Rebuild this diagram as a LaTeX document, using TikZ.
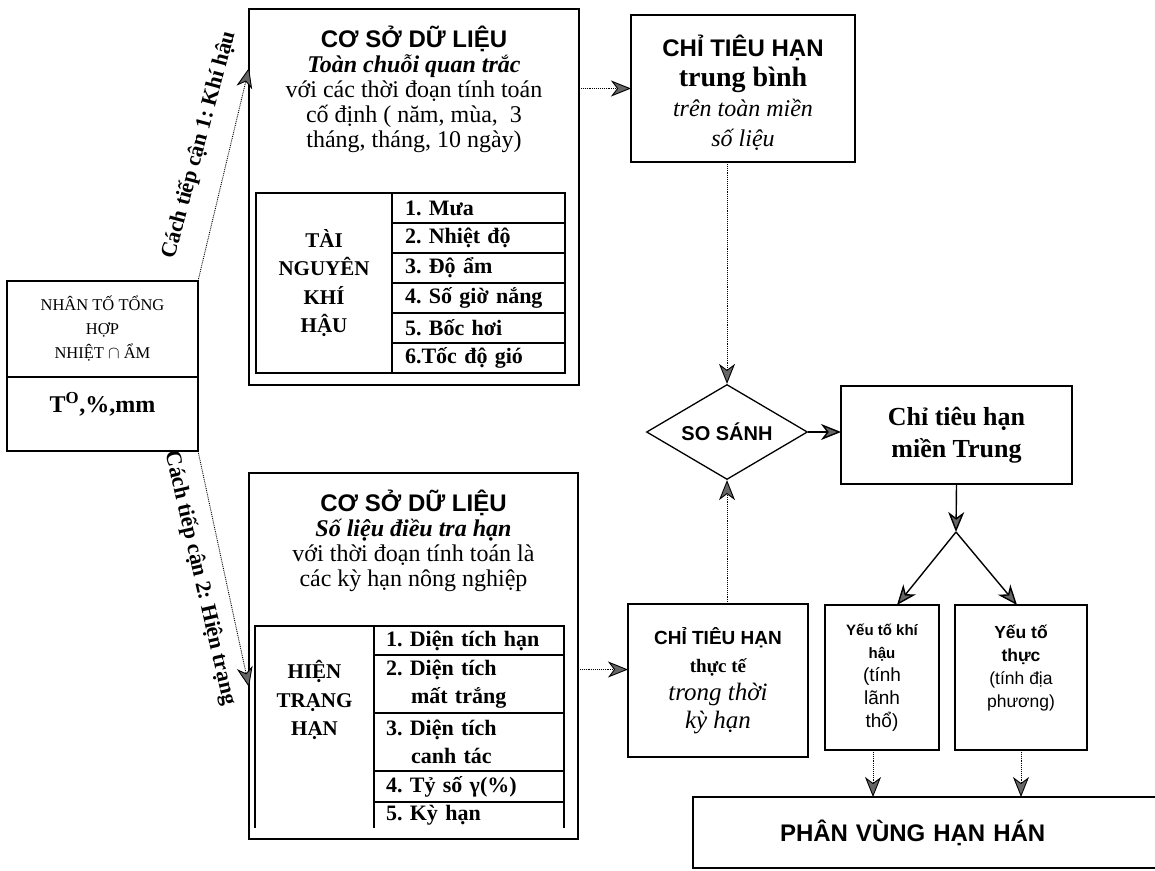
\documentclass[tikz,border=0pt]{standalone}
\usepackage{fontspec}
\setmainfont{Liberation Serif}
\setsansfont{Liberation Sans}
\frenchspacing
\usetikzlibrary{shapes.geometric, arrows.meta, positioning}
\tikzset{
    box/.style={rectangle, draw=black, line width=1.6pt, fill=white, inner sep=0pt, outer sep=0pt, align=center},
    cell/.style={rectangle, draw=black, line width=1.3pt, inner sep=0pt, outer sep=0pt, font=\bfseries\fontsize{21}{28.5}\selectfont},
    item/.style={cell, font=\bfseries\fontsize{22}{28}\selectfont, align=left, anchor=north west},
    decision/.style={diamond, draw=black, line width=1.3pt, fill=white, aspect=1.7, inner sep=0pt, minimum width=161pt, minimum height=95pt, font=\sffamily\bfseries\fontsize{20}{22}\selectfont},
    tag/.style={font=\upshape\bfseries\fontsize{22}{24}\selectfont, inner sep=0pt},
    arrow/.style={line width=1.4pt, -{Stealth[length=20pt, width=16pt, inset=6pt, fill=black!60]}},
    weak/.style={arrow, line width=0.9pt, densely dotted}
}

\begin{document}
\begin{tikzpicture}[x=1pt, y=-1pt]
    \useasboundingbox (0,0) rectangle (1155,870);

    \node (factor) [box, minimum width=191pt, minimum height=96pt, font=\fontsize{16.5}{24}\selectfont] at (102.5,329) {NHÂN TỐ TỔNG\\HỢP\\NHIỆT $\cap$ ẨM};
    \node (unit) [box, minimum width=191pt, minimum height=74pt, below=0pt of factor, text depth=23pt, font=\bfseries\fontsize{24}{28}\selectfont] {T\textsuperscript{O},\%,mm};

    \node (way1) [tag, rotate=75] at (199,145) {Cách tiếp cận 1: Khí hậu};
    \node (way2) [tag, rotate=-77] at (200,578) {Cách tiếp cận 2: Hiện trạng};

    \node (db1) [box, minimum width=330pt, minimum height=376pt] at (414,197) {};
    \node (db1text) [anchor=north, inner sep=0pt, align=center, font=\fontsize{24}{25}\selectfont] at ([yshift=-17pt]db1.north) {{\sffamily\bfseries CƠ SỞ DỮ LIỆU}\\{\bfseries\itshape Toàn chuỗi quan trắc}\\với các thời đoạn tính toán\\cố định ( năm, mùa,~ 3\\tháng, tháng, 10 ngày)};
    \node (res) [cell, minimum width=136pt, minimum height=180pt, anchor=north west, align=center] at (256,193) {TÀI\\NGUYÊN\\KHÍ\\HẬU};
    \foreach \txt [count=\i] in {1. Mưa, 2. Nhiệt độ, 3. Độ ẩm, 4. Số giờ nắng, 5. Bốc hơi, 6.Tốc độ gió}
        \node (r\i) [item, text width=147pt, inner xsep=13pt, minimum height=30pt] at (392,{163+30*\i}) {\txt};

    \node (db2) [box, minimum width=329pt, minimum height=366pt, anchor=north west] at (249,473) {};
    \node (db2text) [anchor=north, inner sep=0pt, align=center, font=\fontsize{24}{25}\selectfont] at ([yshift=-17pt]db2.north) {{\sffamily\bfseries CƠ SỞ DỮ LIỆU}\\{\bfseries\itshape Số liệu điều tra hạn}\\với thời đoạn tính toán là\\các kỳ hạn nông nghiệp};
    \node (stat) [minimum width=119pt, minimum height=202pt, anchor=north west, inner sep=0pt, outer sep=0pt] at (255,626) {};
    \draw [line width=1.3pt] (stat.south west) |- (stat.north east) -- (stat.south east);
    \node (stattext) [cell, draw=none, align=center] at ([yshift=27pt]stat.center) {HIỆN\\TRẠNG\\HẠN};
    \node (s1) [item, text width=166pt, inner xsep=12pt, minimum height=29pt] at (374,626) {1. Diện tích hạn};
    \node (s2) [item, text width=166pt, inner xsep=12pt, minimum height=58pt, below=0pt of s1] {2. Diện tích\\\hspace*{25pt}mất trắng};
    \node (s3) [item, text width=166pt, inner xsep=12pt, minimum height=58pt, below=0pt of s2] {3. Diện tích\\\hspace*{25pt}canh tác};
    \node (s4) [item, text width=166pt, inner xsep=12pt, minimum height=31pt, below=0pt of s3] {4. Tỷ số γ(\%)};
    \node (s5) [item, draw=none, text width=166pt, inner xsep=12pt, minimum height=26pt, below=0pt of s4] {5. Kỳ hạn};
    \draw [line width=1.3pt] (s5.north east) -- (s5.south east);

    \node (avg) [box, minimum width=224pt, minimum height=147pt, font=\fontsize{24}{30}\selectfont] at (743,88.5) {\rule{0pt}{30pt}{\sffamily\bfseries CHỈ TIÊU HẠN}\\{\bfseries\fontsize{28}{30}\selectfont trung bình}\\{\itshape trên toàn miền}\\{\itshape số liệu}};
    \node (cmp) [decision] at (727,432) {SO SÁNH};
    \node (central) [box, minimum width=231pt, minimum height=98pt, font=\bfseries\fontsize{26}{32}\selectfont] at (956.5,435) {Chỉ tiêu hạn\\miền Trung};
    \node (actual) [box, minimum width=180pt, minimum height=153pt, anchor=north west, font=\fontsize{24}{28}\selectfont] at (628,604) {{\sffamily\bfseries\fontsize{19}{28}\selectfont CHỈ TIÊU HẠN}\\{\bfseries\fontsize{19}{28}\selectfont thực tế}\\{\itshape\fontsize{25}{29}\selectfont trong thời}\\{\itshape\fontsize{25}{29}\selectfont kỳ hạn}};
    \node (climate) [box, line width=1.2pt, minimum width=114pt, minimum height=145pt, anchor=north west, font=\sffamily\fontsize{19}{23}\selectfont] at (825,605) {{\bfseries\fontsize{15}{18}\selectfont Yếu tố khí}\\{\bfseries\fontsize{15}{18}\selectfont hậu}\\(tính\\lãnh\\thổ)};
    \node (real) [box, line width=1.2pt, minimum width=132pt, minimum height=145pt, anchor=north west, font=\sffamily\fontsize{17.5}{23}\selectfont] at (955,605) {{\bfseries Yếu tố}\\{\bfseries thực}\\(tính địa\\phương)\\\mbox{}};
    \node (zone) [box, minimum width=522pt, minimum height=71pt, anchor=north west, text width=500pt, align=left, font=\sffamily\bfseries\fontsize{24}{28}\selectfont] at (693,797) {\hspace*{76pt}PHÂN VÙNG HẠN HÁN};

    \coordinate (actin) at ([yshift=11pt]actual.west);
    \coordinate (fork) at (956,532);

    \draw [weak] (factor.north east) -- ([yshift=-59pt]db1.north west);
    \draw [weak] (unit.south east) -- ([yshift=152pt]db2.south west);
    \draw [weak] (db1.east |- avg.west) -- (avg.west);
    \draw [weak] (cmp.north |- avg.south) -- (cmp.north);
    \draw [weak] (db2.east |- actin) -- (actin);
    \draw [weak] (cmp.south |- actual.north) -- (cmp.south);
    \draw [arrow] (cmp.east) -- (cmp.east -| central.west);
    \draw [arrow] (central.south) -- (fork);
    \draw [arrow] (fork) -- ([xshift=15pt]climate.north);
    \draw [arrow] (fork) -- ([xshift=-4pt]real.north);
    \draw [weak] ([xshift=-9pt]climate.south) -- ([xshift=-9pt]climate.south |- zone.north);
    \draw [weak] (real.south) -- (real.south |- zone.north);
\end{tikzpicture}
\end{document}
